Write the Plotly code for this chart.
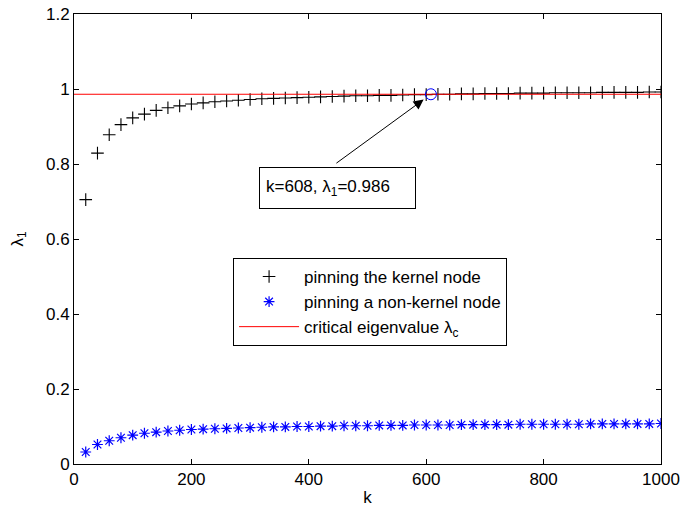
import plotly.graph_objects as go

# ---- data ----
k_values = [20, 40, 60, 80, 100, 120, 140, 160, 180, 200,
            220, 240, 260, 280, 300, 320, 340, 360, 380, 400,
            420, 440, 460, 480, 500, 520, 540, 560, 580, 600,
            620, 640, 660, 680, 700, 720, 740, 760, 780, 800,
            820, 840, 860, 880, 900, 920, 940, 960, 980, 1000]

kernel_lambda = [0.705, 0.829, 0.878, 0.905, 0.923, 0.933, 0.943, 0.950, 0.955, 0.960,
                 0.963, 0.966, 0.968, 0.970, 0.972, 0.974, 0.975, 0.976, 0.977, 0.978,
                 0.979, 0.980, 0.981, 0.982, 0.982, 0.983, 0.983, 0.984, 0.985, 0.985,
                 0.986, 0.986, 0.987, 0.987, 0.988, 0.988, 0.988, 0.989, 0.989, 0.989,
                 0.990, 0.990, 0.990, 0.990, 0.991, 0.991, 0.991, 0.991, 0.992, 0.992]

nonkernel_lambda = [0.032, 0.052, 0.062, 0.070, 0.077, 0.082, 0.085, 0.088, 0.090, 0.092,
                    0.093, 0.094, 0.095, 0.096, 0.097, 0.098, 0.099, 0.099, 0.100, 0.100,
                    0.101, 0.101, 0.102, 0.102, 0.102, 0.103, 0.103, 0.103, 0.104, 0.104,
                    0.104, 0.104, 0.105, 0.105, 0.105, 0.105, 0.105, 0.106, 0.106, 0.106,
                    0.106, 0.106, 0.106, 0.107, 0.107, 0.107, 0.107, 0.107, 0.107, 0.108]

critical_x = [0, 1000]
critical_lambda = 0.986

crossing_k = 608
crossing_lambda = 0.986

x_ticks = [0, 200, 400, 600, 800, 1000]
y_ticks = [0, 0.2, 0.4, 0.6, 0.8, 1.0, 1.2]
y_tick_labels = ["0", "0.2", "0.4", "0.6", "0.8", "1", "1.2"]

FONT = "Liberation Sans, Arial, Helvetica, sans-serif"

fig = go.Figure()

fig.add_trace(go.Scatter(
    x=k_values, y=kernel_lambda, mode="markers",
    name="pinning the kernel node",
    marker=dict(symbol="cross-thin", size=9, color="black",
                line=dict(color="black", width=1.1)),
))
fig.add_trace(go.Scatter(
    x=k_values, y=nonkernel_lambda, mode="markers",
    name="pinning a non-kernel node",
    marker=dict(symbol="asterisk-open", size=9, color="#0000ff",
                line=dict(color="#0000ff", width=1.2)),
))
fig.add_trace(go.Scatter(
    x=critical_x, y=[critical_lambda] * len(critical_x), mode="lines",
    name="critical eigenvalue λ<sub>c</sub>",
    line=dict(color="#ff0000", width=1),
))
fig.add_trace(go.Scatter(
    x=[crossing_k], y=[crossing_lambda], mode="markers", showlegend=False,
    marker=dict(symbol="circle-open", size=11, color="#0000ff",
                line=dict(color="#0000ff", width=1)),
))

# arrow
fig.add_annotation(
    x=crossing_k, y=crossing_lambda, xref="x", yref="y",
    text="", showarrow=True, ax=-96, ay=70,
    arrowhead=2, arrowsize=2, arrowwidth=1, arrowcolor="black", standoff=9,
)
# text box
fig.add_annotation(
    x=0.449, y=0.613, xref="paper", yref="paper",
    xanchor="center", yanchor="middle",
    text=f"k={crossing_k}, λ<sub>1</sub>={crossing_lambda}",
    showarrow=False, align="left", width=143, height=28,
    bordercolor="black", borderwidth=1, borderpad=6, bgcolor="white",
    font=dict(family=FONT, size=17, color="black"),
)

axis_common = dict(
    showline=True, linecolor="black", linewidth=1, mirror="ticks",
    ticks="inside", ticklen=5, tickcolor="black", tickwidth=1,
    showgrid=False, zeroline=False, automargin=False,
    tickfont=dict(family=FONT, size=17, color="black"),
)

fig.update_xaxes(range=[0, 1000], tickvals=x_ticks,
                 title=dict(text="k", font=dict(family=FONT, size=17, color="black"), standoff=2),
                 **axis_common)
fig.update_yaxes(range=[0, 1.2], tickvals=y_ticks, ticktext=y_tick_labels,
                 title=dict(text="λ<sub>1</sub>", font=dict(family=FONT, size=17, color="black"), standoff=18),
                 **axis_common)

fig.update_layout(
    width=681, height=512,
    margin=dict(l=74, r=20, t=14, b=48, autoexpand=False),
    paper_bgcolor="white", plot_bgcolor="white",
    font=dict(family=FONT, size=17, color="black"),
    showlegend=True,
    legend=dict(x=0.271, y=0.458, xanchor="left", yanchor="top",
                bgcolor="white", bordercolor="black", borderwidth=1,
                font=dict(family=FONT, size=17, color="black"),
                itemwidth=60),
)

fig.write_html("out.html", config={"displayModeBar": False},
               post_script="document.body.style.margin='0';document.body.style.overflow='hidden';")
